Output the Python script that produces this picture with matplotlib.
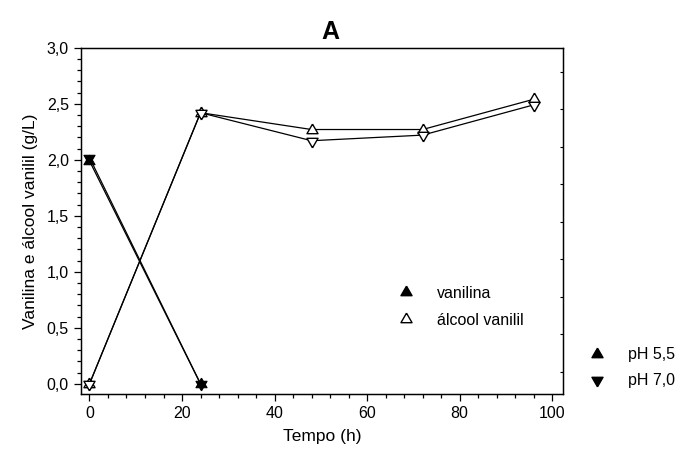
import matplotlib
matplotlib.use("Agg")
import numpy as np
import matplotlib.pyplot as plt
from matplotlib.lines import Line2D
from matplotlib.ticker import MultipleLocator, FuncFormatter, NullFormatter

plt.rcParams['font.family'] = ['Liberation Sans', 'DejaVu Sans']

# Time points (h)
t_van = [0, 24]
t_alc = [0, 24, 48, 72, 96]

# Vanillin (g/L)
van_ph55 = [1.99, 0.00]
van_ph70 = [2.02, 0.00]

# Vanillyl alcohol (g/L)
alc_ph55 = [0.00, 2.42, 2.27, 2.27, 2.54]
alc_ph70 = [0.00, 2.42, 2.17, 2.22, 2.49]

# Equilateral triangles centred on their centroid
TRI_UP = [(0, 1), (-0.866, -0.5), (0.866, -0.5), (0, 1)]
TRI_DN = [(0, -1), (-0.866, 0.5), (0.866, 0.5), (0, -1)]

fig = plt.figure(figsize=(6.85, 4.57), dpi=100)
ax = fig.add_axes([0.1178, 0.1379, 0.7045, 0.7577])

ms = 9.2
lw = 0.9
ax.plot(t_van, van_ph55, color='black', lw=lw, marker=TRI_UP, ms=ms,
        mfc='black', mec='black', mew=0.8, zorder=3)
ax.plot(t_van, van_ph70, color='black', lw=lw, marker=TRI_DN, ms=ms,
        mfc='black', mec='black', mew=0.8, zorder=3)
ax.plot(t_alc, alc_ph55, color='black', lw=lw, marker=TRI_UP, ms=ms,
        mfc='white', mec='black', mew=1.0, zorder=3)
ax.plot(t_alc, alc_ph70, color='black', lw=lw, marker=TRI_DN, ms=ms,
        mfc='white', mec='black', mew=1.0, zorder=3)

ax.set_xlim(-1.9, 102.4)
ax.set_ylim(-0.09, 3.0)
ax.xaxis.set_major_locator(MultipleLocator(20))
ax.xaxis.set_minor_locator(MultipleLocator(4))
ax.yaxis.set_major_locator(MultipleLocator(0.5))
ax.yaxis.set_minor_locator(MultipleLocator(0.1))
ax.yaxis.set_major_formatter(FuncFormatter(lambda v, p: f"{v:.1f}".replace('.', ',')))

ax.tick_params(which='both', direction='out', top=False, right=False,
               labelsize=11.5, width=0.9)
ax.tick_params(which='major', length=5)
ax.tick_params(which='minor', length=3)
for s in ax.spines.values():
    s.set_linewidth(1.0)

# Small inward ticks along the right frame
rax = ax.twinx()
rax.set_ylim(0, 1)
rax.set_yticks(np.linspace(0.064, 0.931, 9))
rax.yaxis.set_major_formatter(NullFormatter())
rax.tick_params(axis='y', direction='in', length=2.5, width=0.8)

ax.set_xlabel('Tempo (h)', fontsize=12.5, labelpad=6)
ax.set_ylabel('Vanilina e álcool vanilil (g/L)', fontsize=12.5, labelpad=6)
ax.set_title('A', fontsize=18, fontweight='bold', pad=6, x=0.517)

# Compound legend inside the axes
h_van = Line2D([], [], ls='none', marker=TRI_UP, ms=ms, mfc='black', mec='black')
h_alc = Line2D([], [], ls='none', marker=TRI_UP, ms=ms, mfc='white', mec='black')
ax.legend([h_van, h_alc], ['vanilina', 'álcool vanilil'],
          loc='center left', bbox_to_anchor=(0.62, 0.251),
          frameon=False, fontsize=11.5, handlelength=1.5,
          handletextpad=1.2, labelspacing=0.75)

# pH legend outside the axes
h_55 = Line2D([], [], ls='none', marker=TRI_UP, ms=ms, mfc='black', mec='black')
h_70 = Line2D([], [], ls='none', marker=TRI_DN, ms=ms, mfc='black', mec='black')
fig.legend([h_55, h_70], ['pH 5,5', 'pH 7,0'],
           loc='center left', bbox_to_anchor=(0.833, 0.195),
           frameon=False, fontsize=11.5, handlelength=1.5,
           handletextpad=1.2, labelspacing=0.7)

fig.savefig('out.png', dpi=100)
